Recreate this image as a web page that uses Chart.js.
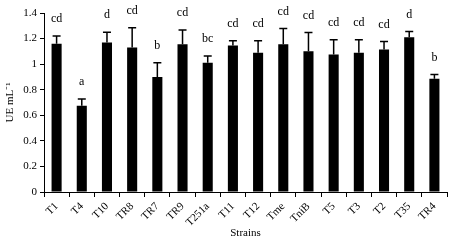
<!DOCTYPE html>
<html>
<head>
<meta charset="utf-8">
<script src="https://cdn.jsdelivr.net/npm/chart.js@4/dist/chart.umd.min.js"></script>
<style>
  html, body { margin: 0; padding: 0; background: #fff; }
  #wrap { width: 454px; height: 243px; }
</style>
</head>
<body>
<div id="wrap"><canvas id="chart"></canvas></div>
<script>
const strains = ["T1", "T4", "T10", "TR8", "TR7", "TR9", "T251a", "T11", "T12", "Tme", "TniB", "T5", "T3", "T2", "T35", "TR4"];
const ueValues = [1.16, 0.675, 1.17, 1.13, 0.9, 1.155, 1.01, 1.145, 1.09, 1.155, 1.1, 1.075, 1.09, 1.115, 1.21, 0.885];
const ueErrors = [0.06, 0.053, 0.08, 0.155, 0.11, 0.113, 0.053, 0.037, 0.092, 0.124, 0.148, 0.116, 0.1, 0.062, 0.046, 0.034];
const groups = ["cd", "a", "d", "cd", "b", "cd", "bc", "cd", "cd", "cd", "cd", "cd", "cd", "cd", "d", "b"];

const serif = "'Liberation Serif', 'Times New Roman', serif";

// error bars (upward only) + significance letters
const errorBars = {
  id: "errorBars",
  afterDatasetsDraw(chart) {
    const ctx = chart.ctx;
    const y = chart.scales.y;
    const meta = chart.getDatasetMeta(0);
    ctx.save();
    ctx.strokeStyle = "#000";
    ctx.lineWidth = 1.5;
    ctx.fillStyle = "#000";
    ctx.font = "12px " + serif;
    ctx.textAlign = "center";
    ctx.textBaseline = "bottom";
    meta.data.forEach((bar, i) => {
      const top = y.getPixelForValue(ueValues[i]);
      const cap = y.getPixelForValue(ueValues[i] + ueErrors[i]);
      ctx.beginPath();
      ctx.moveTo(bar.x, top);
      ctx.lineTo(bar.x, cap);
      ctx.moveTo(bar.x - 4, cap);
      ctx.lineTo(bar.x + 4, cap);
      ctx.stroke();
      ctx.fillText(groups[i], bar.x, cap - 11);
    });
    ctx.restore();
  }
};

new Chart(document.getElementById("chart"), {
  type: "bar",
  data: {
    labels: strains,
    datasets: [{
      data: ueValues,
      backgroundColor: "#000",
      borderWidth: 0,
      barPercentage: 0.4,
      categoryPercentage: 1
    }]
  },
  options: {
    responsive: true,
    maintainAspectRatio: false,
    animation: false,
    layout: { padding: { top: 13, right: 7, left: 4, bottom: 0 } },
    plugins: {
      legend: { display: false },
      tooltip: { enabled: false }
    },
    scales: {
      x: {
        grid: { display: true, drawOnChartArea: false, color: "#000", tickLength: 5, offset: true },
        border: { color: "#000", width: 1 },
        ticks: { color: "#000", font: { family: serif, size: 11 }, maxRotation: 45, minRotation: 45, padding: 3 },
        title: { display: true, text: "Strains", color: "#000", font: { family: serif, size: 11 }, padding: { top: 0, bottom: 3 } },
        afterFit(scale) { scale.height = 51; }
      },
      y: {
        min: 0,
        max: 1.4,
        grid: { display: true, drawOnChartArea: false, color: "#000", tickLength: 4 },
        border: { color: "#000", width: 1 },
        ticks: { stepSize: 0.2, color: "#000", font: { family: serif, size: 11 }, padding: 3,
                 callback: (v) => Math.round(v * 10) / 10 },
        title: { display: true, text: "UE mL⁻¹", color: "#000", font: { family: serif, size: 11 }, padding: 0 },
        afterFit(scale) { scale.width = 40; }
      }
    }
  },
  plugins: [errorBars]
});
</script>
</body>
</html>
